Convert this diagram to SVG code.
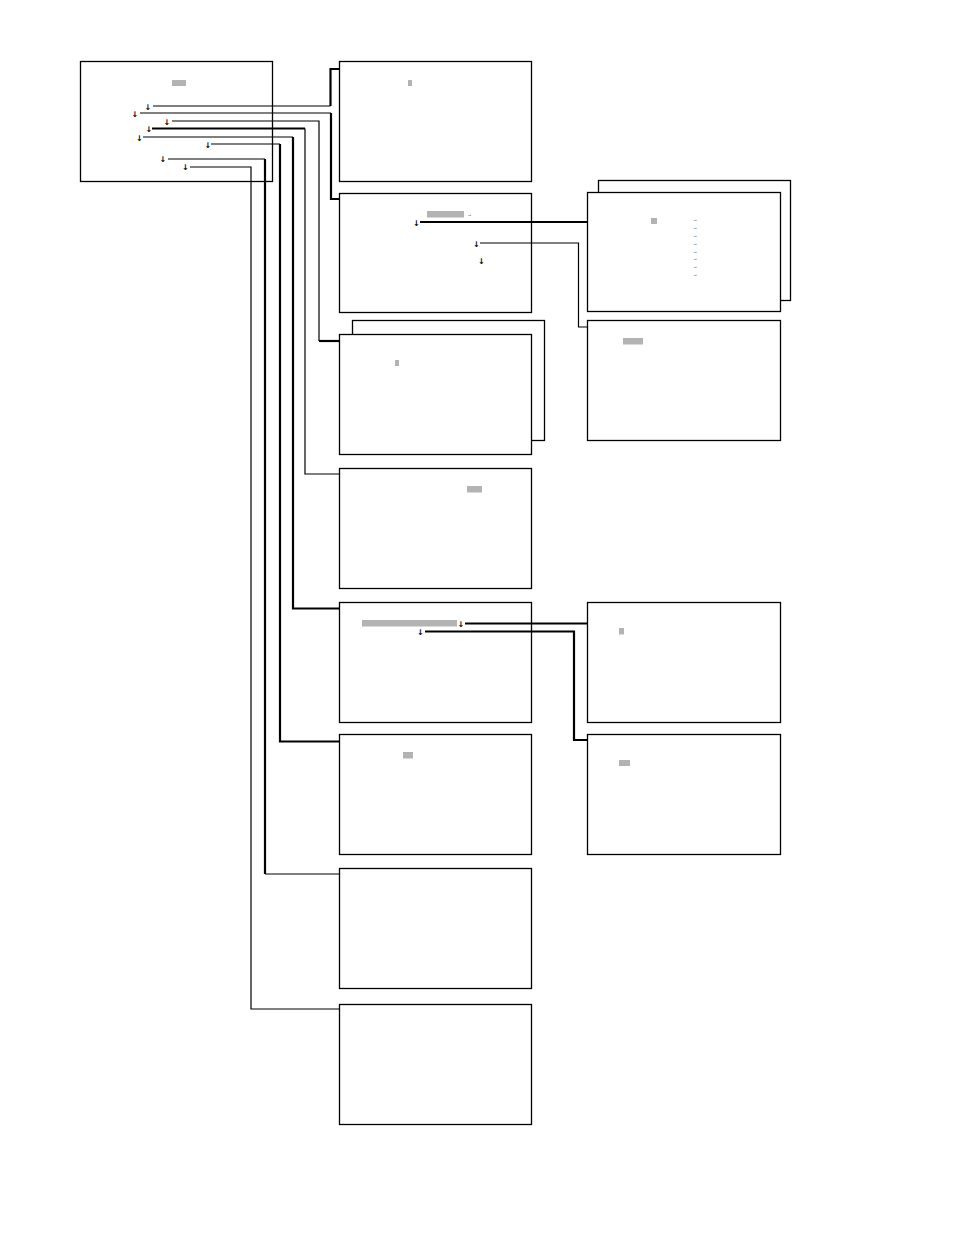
<svg xmlns="http://www.w3.org/2000/svg" width="954" height="1235" viewBox="0 0 954 1235">
<style>
.box{fill:#fff;stroke:#000;stroke-width:1.3}
.hl{fill:#b3b3b3;stroke:none}
.thin{fill:none;stroke:#000;stroke-width:1.2}
.thick{fill:none;stroke:#000;stroke-width:2.2}
.g{font-family:"DejaVu Sans",sans-serif;font-size:8px;font-weight:bold;fill:#000}
.a{font-family:"Liberation Sans","DejaVu Sans",sans-serif;font-size:5px;fill:#000}
</style>
<rect width="954" height="1235" fill="#fff"/>

<g id="main">
  <rect class="box" x="80.5" y="61.5" width="192" height="120"/>
  <rect class="hl" x="172" y="80" width="14" height="6"/>
  <text class="g" x="144.5" y="109.5">↓</text>
  <text class="g" x="131.5" y="116.5">↓</text>
  <text class="g" x="163.5" y="124.5">↓</text>
  <text class="g" x="145.5" y="132">↓</text>
  <text class="g" x="136" y="140.5">↓</text>
  <text class="g" x="204.5" y="147.5">↓</text>
  <text class="g" x="159.5" y="162">↓</text>
  <text class="g" x="182" y="170">↓</text>
</g>

<g id="box1">
  <rect class="box" x="339.5" y="61.5" width="192" height="120"/>
  <rect class="hl" x="408" y="80" width="4" height="6"/>
</g>

<g id="box2">
  <rect class="box" x="339.5" y="193.5" width="192" height="119"/>
  <rect class="hl" x="427" y="211" width="37" height="6.5"/>
  <text class="a" x="467" y="216">→</text>
  <text class="g" x="413" y="225.5">↓</text>
  <text class="g" x="473" y="247">↓</text>
  <text class="g" x="478" y="263.5">↓</text>
</g>

<g id="boxR1">
  <rect class="box" x="598.5" y="180.5" width="192" height="120"/>
  <rect class="box" x="587.5" y="192.5" width="193" height="119"/>
  <rect class="hl" x="651" y="218" width="6" height="6"/>
  <text class="a" x="692.5" y="221">→</text>
  <text class="a" x="692.5" y="229">→</text>
  <text class="a" x="692.5" y="236.5">→</text>
  <text class="a" x="692.5" y="244.5">→</text>
  <text class="a" x="692.5" y="252.5">→</text>
  <text class="a" x="692.5" y="259.5">→</text>
  <text class="a" x="692.5" y="267.5">→</text>
  <text class="a" x="692.5" y="275.5">→</text>
</g>

<g id="box3">
  <rect class="box" x="352.5" y="320.5" width="192" height="120"/>
  <rect class="box" x="339.5" y="334.5" width="192" height="120"/>
  <rect class="hl" x="395" y="360" width="4" height="6"/>
</g>

<g id="boxR2">
  <rect class="box" x="587.5" y="320.5" width="193" height="120"/>
  <rect class="hl" x="623" y="338" width="20" height="6.5"/>
</g>

<g id="box4">
  <rect class="box" x="339.5" y="468.5" width="192" height="120"/>
  <rect class="hl" x="467" y="486" width="15" height="6.5"/>
</g>

<g id="box5">
  <rect class="box" x="339.5" y="602.5" width="192" height="120"/>
  <rect class="hl" x="362" y="620" width="95" height="6.5"/>
  <text class="g" x="457.5" y="627">↓</text>
  <text class="g" x="417" y="635">↓</text>
</g>

<g id="boxR3">
  <rect class="box" x="587.5" y="602.5" width="193" height="120"/>
  <rect class="hl" x="619" y="628" width="5" height="6.5"/>
</g>

<g id="box6">
  <rect class="box" x="339.5" y="734.5" width="192" height="120"/>
  <rect class="hl" x="403" y="752" width="10" height="6.5"/>
</g>

<g id="boxR4">
  <rect class="box" x="587.5" y="734.5" width="193" height="120"/>
  <rect class="hl" x="619" y="760" width="11" height="6"/>
</g>

<g id="box7">
  <rect class="box" x="339.5" y="868.5" width="192" height="120"/>
</g>

<g id="box8">
  <rect class="box" x="339.5" y="1004.5" width="192" height="120"/>
</g>

<g id="connectors">
  <path class="thin" d="M153,106 H330.5"/>
  <path class="thick" d="M330.5,106 V69 H340"/>
  <path class="thin" d="M140,113 H331"/>
  <path class="thick" d="M331,113 V199 H340"/>
  <path class="thin" d="M172,121 H319 V341"/>
  <path class="thick" d="M319,341 H340"/>
  <path class="thick" d="M152,128.5 H305"/>
  <path class="thin" d="M305,128.5 V474 H340"/>
  <path class="thin" d="M143,137 H293"/>
  <path class="thick" d="M293,137 V608.5 H340"/>
  <path class="thin" d="M211,144 H280"/>
  <path class="thick" d="M280,144 V741.5 H340"/>
  <path class="thin" d="M168,159 H265"/>
  <path class="thick" d="M265,159 V874"/>
  <path class="thin" d="M265,874 H340"/>
  <path class="thin" d="M190,167 H251 V1009 H340"/>
  <path class="thick" d="M420,222 H587"/>
  <path class="thin" d="M480,243 H578.5 V327 H587"/>
  <path class="thick" d="M465,623.5 H587"/>
  <path class="thick" d="M425,631.5 H574 V740 H587"/>
</g>
</svg>
